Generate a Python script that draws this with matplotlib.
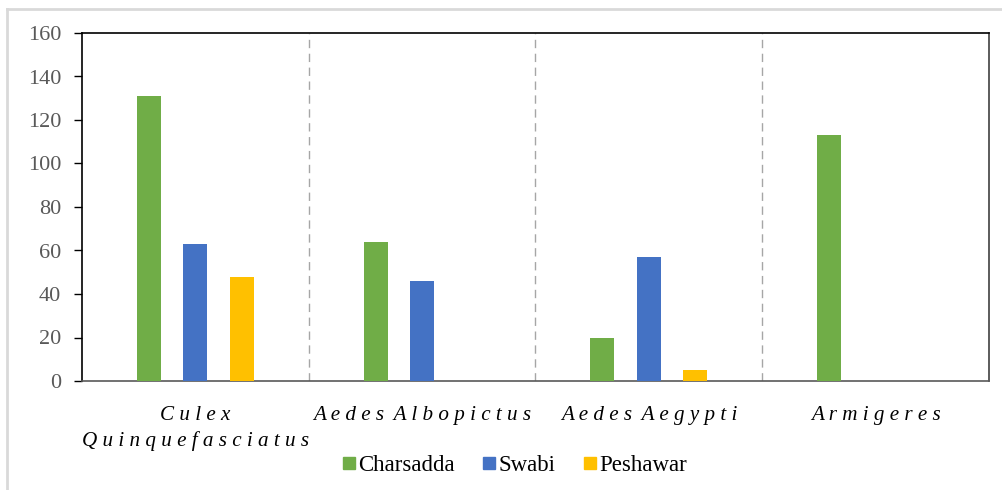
import numpy as np
import matplotlib.pyplot as plt
from matplotlib.lines import Line2D

# mosquito species counts per district
species = ['Culex Quinquefasciatus', 'Aedes Albopictus', 'Aedes Aegypti', 'Armigeres']
districts = ['Charsadda', 'Swabi', 'Peshawar']
charsadda = [131, 64, 20, 113]
swabi = [63, 46, 57, 0]
peshawar = [48, 0, 5, 0]
colors = ['#70AD47', '#4472C4', '#FFC000']
yticks = [0, 20, 40, 60, 80, 100, 120, 140, 160]


def spaced(text):
    # imitate the wide letter spacing of the original labels
    lines = []
    for line in text.split('\n'):
        lines.append(' \u2009'.join(' '.join(w) for w in line.split(' ')))
    return '\n'.join(lines)


plt.rcParams['font.family'] = ['Liberation Serif', 'DejaVu Serif']

fig = plt.figure(figsize=(10.03, 4.9), dpi=100)
ax = fig.add_axes([82 / 1003, 109 / 490, 907 / 1003, 348 / 490])

x = np.arange(len(species))
offsets = [-0.205, 0.0, 0.205]
width = 0.106
for vals, off, col, name in zip([charsadda, swabi, peshawar], offsets, colors, districts):
    ax.bar(x + off, vals, width=width, color=col, label=name, zorder=3)

ax.set_xlim(-0.5, 3.5)
ax.set_ylim(0, 160)
ax.set_yticks(yticks)
ax.tick_params(axis='y', direction='out', length=6, width=1, color='black',
               labelsize=16, labelcolor='#595959', pad=9)

labels = ['Culex\nQuinquefasciatus', 'Aedes Albopictus', 'Aedes Aegypti', 'Armigeres']
ax.set_xticks(x)
ax.set_xticklabels([spaced(l) for l in labels], fontsize=15.2, style='italic',
                   linespacing=1.38)
ax.tick_params(axis='x', length=0, pad=18)

for b in [0.5, 1.5, 2.5]:
    ax.axvline(b, color='#A6A6A6', linestyle=(0, (6, 4)), linewidth=1, zorder=1)

ax.spines['left'].set_color('black')
ax.spines['top'].set_color('black')
ax.spines['right'].set_color('#404040')
ax.spines['bottom'].set_color('#595959')
for s in ax.spines.values():
    s.set_linewidth(1.2)

handles = [Line2D([], [], marker='s', linestyle='none', markersize=8.5,
                  markerfacecolor=c, markeredgecolor=c) for c in colors]
fig.legend(handles, districts, loc='center', bbox_to_anchor=(514 / 1003, 25 / 490),
           ncol=3, frameon=False, fontsize=16.5, handletextpad=0.05,
           columnspacing=1.15, handlelength=0.7)

# light outer frame (top and left edges visible in the original)
fig.add_artist(Line2D([7 / 1003, 1.0], [1 - 9 / 490, 1 - 9 / 490],
                      transform=fig.transFigure, color='#D9D9D9', linewidth=2))
fig.add_artist(Line2D([7 / 1003, 7 / 1003], [0.0, 1 - 9 / 490],
                      transform=fig.transFigure, color='#D9D9D9', linewidth=2))

fig.savefig('out.png', dpi=100)
